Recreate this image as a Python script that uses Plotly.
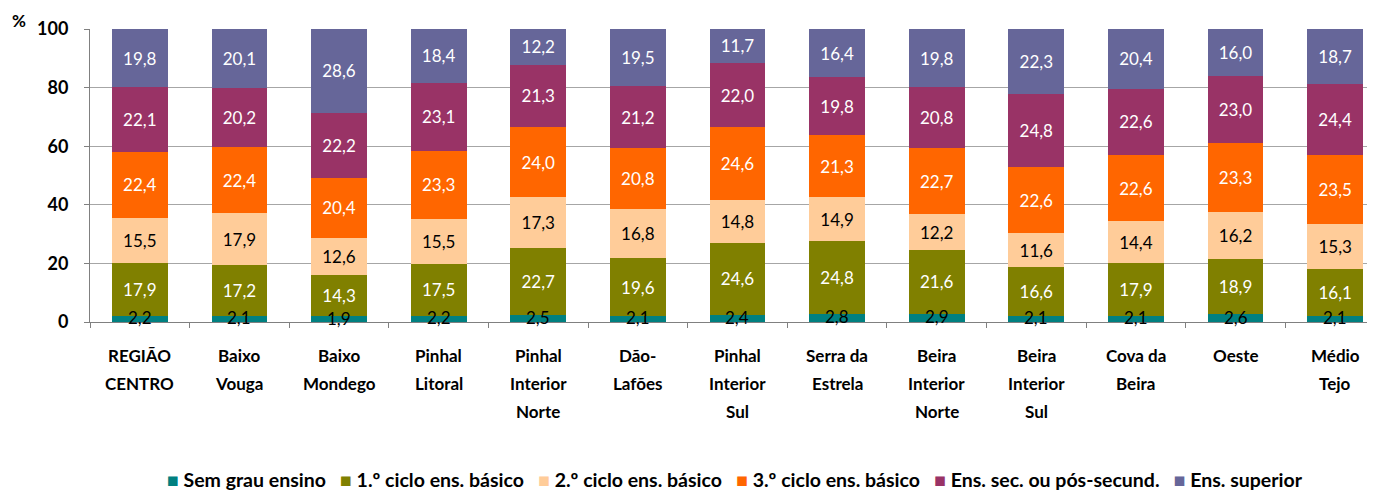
import plotly.graph_objects as go

categories = ["REGIÃO CENTRO", "Baixo Vouga", "Baixo Mondego", "Pinhal Litoral",
              "Pinhal Interior Norte", "Dão-Lafões", "Pinhal Interior Sul",
              "Serra da Estrela", "Beira Interior Norte", "Beira Interior Sul",
              "Cova da Beira", "Oeste", "Médio Tejo"]
# how each category name is broken into lines under the axis
category_lines = [["REGIÃO", "CENTRO"], ["Baixo", "Vouga"], ["Baixo", "Mondego"], ["Pinhal", "Litoral"],
                  ["Pinhal", "Interior", "Norte"], ["Dão-", "Lafões"], ["Pinhal", "Interior", "Sul"],
                  ["Serra da", "Estrela"], ["Beira", "Interior", "Norte"], ["Beira", "Interior", "Sul"],
                  ["Cova da", "Beira"], ["Oeste"], ["Médio", "Tejo"]]

sem_grau = [2.2, 2.1, 1.9, 2.2, 2.5, 2.1, 2.4, 2.8, 2.9, 2.1, 2.1, 2.6, 2.1]
ciclo1 = [17.9, 17.2, 14.3, 17.5, 22.7, 19.6, 24.6, 24.8, 21.6, 16.6, 17.9, 18.9, 16.1]
ciclo2 = [15.5, 17.9, 12.6, 15.5, 17.3, 16.8, 14.8, 14.9, 12.2, 11.6, 14.4, 16.2, 15.3]
ciclo3 = [22.4, 22.4, 20.4, 23.3, 24.0, 20.8, 24.6, 21.3, 22.7, 22.6, 22.6, 23.3, 23.5]
secundario = [22.1, 20.2, 22.2, 23.1, 21.3, 21.2, 22.0, 19.8, 20.8, 24.8, 22.6, 23.0, 24.4]
superior = [19.8, 20.1, 28.6, 18.4, 12.2, 19.5, 11.7, 16.4, 19.8, 22.3, 20.4, 16.0, 18.7]

series = [
    ("Sem grau ensino", sem_grau, "#008080", "black"),
    ("1.º ciclo ens. básico", ciclo1, "#808000", "white"),
    ("2.º ciclo ens. básico", ciclo2, "#FFCC99", "black"),
    ("3.º ciclo ens. básico", ciclo3, "#FF6600", "white"),
    ("Ens. sec. ou pós-secund.", secundario, "#993366", "white"),
    ("Ens. superior", superior, "#666699", "white"),
]

FONT = "Lato"
LABEL_SIZE = 17

fig = go.Figure()
for i, (name, vals, color, txtcolor) in enumerate(series):
    fig.add_trace(go.Bar(
        x=categories, y=vals, name=name,
        marker=dict(color=color, line=dict(width=0)),
        width=0.56,
        texttemplate="%{y:.1f}" if i > 0 else None,
        textposition="inside" if i > 0 else "none",
        insidetextanchor="middle",
        textangle=0,
        textfont=dict(family=FONT, size=LABEL_SIZE, color=txtcolor),
    ))

annotations = []
# labels of the thin bottom segment overflow the bar, so place them as annotations
for cat, v in zip(categories, sem_grau):
    annotations.append(dict(
        x=cat, y=v / 2, xref="x", yref="y", text=f"{v:.1f}".replace(".", ","),
        showarrow=False, yshift=1,
        font=dict(family=FONT, size=LABEL_SIZE, color="black"),
    ))
# category names, one line per annotation for Excel-like line spacing
for cat, lines in zip(categories, category_lines):
    for j, line in enumerate(lines):
        annotations.append(dict(
            x=cat, y=0, xref="x", yref="y", text=line, showarrow=False,
            yanchor="middle", yshift=-33 - 28 * j,
            font=dict(family=FONT, size=LABEL_SIZE, weight="bold", color="black"),
        ))
annotations.append(dict(
    text="%", xref="paper", yref="paper", x=-0.055, y=1.03,
    xanchor="center", yanchor="middle", showarrow=False,
    font=dict(family=FONT, size=17, weight="bold"),
))
# compact legend line, Excel style (plotly's own legend spaces items too widely)
legend_text = "&nbsp;&nbsp;&nbsp;".join(
    f"<span style='color:{color}'>■</span>&nbsp;{name}" for name, _, color, _ in series
)
annotations.append(dict(
    text=legend_text, xref="paper", yref="paper", x=0.5016, y=-0.539,
    xanchor="center", yanchor="middle", showarrow=False,
    font=dict(family=FONT, size=19.5, weight="bold", color="black"),
))

# the page body has an 8px margin, so the figure is sized to fit the window
fig.update_layout(
    barmode="stack",
    separators=",.",
    width=1367, height=483,
    margin=dict(l=82, r=0, t=21, b=169, autoexpand=False),
    plot_bgcolor="white", paper_bgcolor="white",
    font=dict(family=FONT, color="black"),
    uniformtext=dict(minsize=LABEL_SIZE, mode="show"),
    showlegend=False,
    xaxis=dict(
        range=[-0.5, 12.4], automargin=False,
        showline=True, linecolor="#808080", linewidth=1,
        ticks="outside", tickson="boundaries", ticklen=5, tickcolor="#808080",
        showticklabels=False,
        showgrid=False,
    ),
    yaxis=dict(
        range=[0, 100], tickvals=[0, 20, 40, 60, 80, 100], automargin=False,
        showline=True, linecolor="#808080", linewidth=1,
        ticks="outside", ticklen=5, tickcolor="#808080",
        showgrid=True, gridcolor="#A6A6A6", gridwidth=1,
        tickfont=dict(family=FONT, size=18, weight="bold"),
        ticklabelstandoff=12,
        zeroline=False,
    ),
    annotations=annotations,
)

fig.write_html("out.html")
